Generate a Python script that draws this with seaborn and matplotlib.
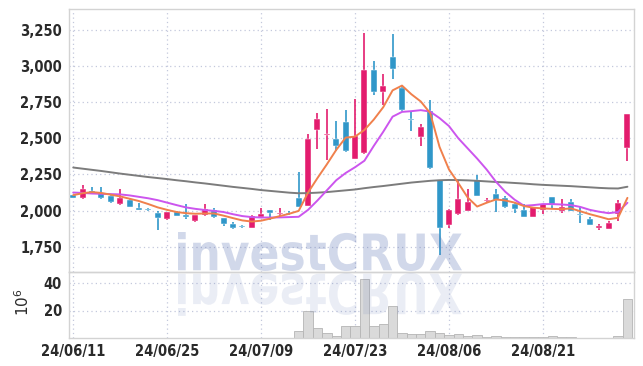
import numpy as np
import pandas as pd
import matplotlib
matplotlib.use("Agg")
import matplotlib.pyplot as plt
import seaborn as sns
from matplotlib.textpath import TextPath
from matplotlib.font_manager import FontProperties, fontManager
from matplotlib.patches import PathPatch
from matplotlib.path import Path
from matplotlib.ticker import FuncFormatter, FixedLocator

# ---------------- data ----------------
dates = pd.bdate_range("2024-06-11", periods=61)
dates = dates[dates != pd.Timestamp("2024-08-15")][:60]

open_ = [2105, 2090, 2135, 2125, 2100, 2045, 2075, 2012, 2010, 1982,
         1942, 1988, 1965, 1925, 1966, 2003, 1946, 1907, 1893, 1882,
         1958, 2003, 1978, 1982, 2090, 2033, 2556, 2523, 2494, 2611,
         2360, 2400, 2970, 2820, 3060, 2850, 2632, 2506, 2687, 2210,
         1900, 1975, 1999, 2215, 2070, 2118, 2090, 2045, 2003, 1957,
         2003, 2091, 1997, 2059, 1975, 1944, 1884, 1874, 1976, 2436]
high = [2110, 2180, 2160, 2160, 2105, 2150, 2080, 2050, 2020, 1995,
        1990, 1995, 2047, 1972, 2043, 2020, 1950, 1923, 1897, 1966,
        2020, 2005, 2020, 1995, 2268, 2533, 2678, 2706, 2618, 2694,
        2775, 3230, 3033, 2943, 3224, 2868, 2687, 2600, 2763, 2215,
        2010, 2210, 2146, 2245, 2090, 2146, 2100, 2050, 2045, 2025,
        2048, 2095, 2077, 2080, 2022, 1958, 1907, 1925, 2072, 2670]
low = [2085, 2083, 2118, 2080, 2055, 2040, 2025, 2005, 2000, 1865,
       1938, 1962, 1942, 1920, 1962, 1950, 1893, 1870, 1880, 1878,
       1955, 1935, 1965, 1967, 2025, 2030, 2425, 2350, 2411, 2404,
       2355, 2395, 2802, 2733, 2913, 2690, 2549, 2448, 2290, 1690,
       1877, 1970, 1995, 2098, 2055, 1992, 2015, 1985, 1955, 1955,
       1976, 2010, 1985, 1995, 1912, 1900, 1865, 1872, 1930, 2344]
close = [2090, 2150, 2125, 2085, 2057, 2090, 2028, 2008, 2007, 1952,
         1988, 1965, 1960, 1968, 2010, 1955, 1908, 1882, 1885, 1962,
         1976, 1986, 1982, 1978, 2027, 2498, 2632, 2528, 2448, 2412,
         2514, 2970, 2820, 2860, 2982, 2694, 2628, 2575, 2296, 1877,
         2003, 2077, 2057, 2100, 2074, 2072, 2027, 2008, 1958, 2022,
         2043, 2038, 2026, 1997, 1972, 1902, 1888, 1916, 2050, 2666]
volume = [0.1, 0.1, 0.1, 0.1, 0.1, 0.1, 0.1, 0.1, 0.1, 0.1,
          0.1, 0.1, 0.1, 0.1, 0.1, 0.1, 0.1, 0.1, 0.1, 0.1,
          0.1, 0.1, 0.1, 0.1, 5.0, 19.3, 7.4, 3.8, 1.8, 8.4,
          8.4, 43.2, 8.4, 10.4, 23.0, 3.8, 2.6, 3.1, 5.0, 3.8,
          2.4, 3.1, 1.6, 2.4, 1.0, 1.6, 1.0, 1.0, 0.5, 0.5,
          0.6, 1.6, 1.0, 1.0, 0.3, 0.3, 0.3, 0.3, 1.6, 28.1]
ma_short = [2107, 2120, 2128, 2122, 2110, 2098, 2082, 2066, 2045, 2022,
            2005, 1990, 1982, 1978, 1980, 1980, 1965, 1948, 1932, 1924,
            1930, 1945, 1962, 1978, 1998, 2125, 2225, 2320, 2420, 2505,
            2512, 2558, 2630, 2715, 2832, 2865, 2805, 2755, 2675, 2440,
            2285, 2190, 2090, 2028, 2054, 2077, 2070, 2055, 2031, 2020,
            2015, 2012, 2010, 2015, 1995, 1975, 1958, 1940, 1950, 2088]
ma_mid = [2125, 2122, 2118, 2116, 2114, 2112, 2105, 2095, 2085, 2072,
          2055, 2038, 2022, 2012, 2004, 1998, 1990, 1975, 1962, 1955,
          1952, 1952, 1953, 1955, 1957, 2005, 2070, 2140, 2210, 2260,
          2300, 2345, 2448, 2545, 2650, 2683, 2688, 2695, 2685, 2640,
          2585, 2500, 2430, 2360, 2285, 2200, 2130, 2075, 2033, 2038,
          2045, 2045, 2042, 2038, 2025, 2005, 1992, 1982, 1990, 2054]
ma_long = [2298, 2290, 2282, 2274, 2265, 2256, 2248, 2240, 2232, 2225,
           2218, 2210, 2203, 2195, 2188, 2180, 2172, 2164, 2157, 2150,
           2142, 2136, 2130, 2124, 2120, 2121, 2124, 2128, 2134, 2140,
           2146, 2155, 2163, 2170, 2178, 2186, 2194, 2200, 2206, 2210,
           2212, 2211, 2209, 2206, 2202, 2198, 2195, 2191, 2187, 2182,
           2178, 2175, 2172, 2169, 2165, 2161, 2157, 2154, 2153, 2165]
price_ticks = [1750, 2000, 2250, 2500, 2750, 3000, 3250]
volume_ticks = [20, 40]

# ---------------- style ----------------
sns.set_theme(style="white")
names = {f.name for f in fontManager.ttflist}
cond = [f for f in fontManager.ttflist if f.name == 'DejaVu Sans' and f.stretch == 'condensed']
if 'Liberation Sans Narrow' in names:
    plt.rcParams['font.family'] = ['Liberation Sans Narrow', 'DejaVu Sans']
    TICKFONT = dict(family='Liberation Sans Narrow', weight='bold')
elif cond:
    plt.rcParams['font.family'] = ['DejaVu Sans']
    TICKFONT = dict(family='DejaVu Sans', stretch='condensed', weight='bold')
else:
    plt.rcParams['font.family'] = ['DejaVu Sans']
    TICKFONT = dict(family='DejaVu Sans', weight='bold')

UP = '#E31C6E'
DOWN = '#3097C9'
GRID = '#c3c8dc'
SPINE = '#d3d3d3'
TXT = '#2a2a2a'

W, H = 643, 366
fig = plt.figure(figsize=(W / 100, H / 100), dpi=100)
L, R = 69, 634
ax = fig.add_axes([L / W, 1 - 272 / H, (R - L) / W, (272 - 9) / H])
axv = fig.add_axes([L / W, 1 - 338 / H, (R - L) / W, (338 - 272) / H], sharex=ax)
for a in (ax, axv):
    a.set_facecolor('none')

df = pd.DataFrame({"date": dates, "open": open_, "high": high, "low": low,
                   "close": close, "volume": volume, "ma5": ma_short,
                   "ma20": ma_mid, "ma60": ma_long})
df["idx"] = np.arange(len(df))
df["up"] = df["close"] >= df["open"]
colors = np.where(df["up"], UP, DOWN)

# candles
ax.vlines(df["idx"], df["low"], df["high"], colors=colors, lw=1.2, zorder=2)
body_lo = np.minimum(df["open"], df["close"]).astype(float)
body_h = np.abs(df["close"] - df["open"]).astype(float)
min_h = 9.0
adj = body_h < min_h
body_lo = np.where(adj, (df["open"] + df["close"]) / 2 - min_h / 2, body_lo)
body_h = np.where(adj, min_h, body_h)
ax.bar(df["idx"], body_h, bottom=body_lo, width=0.64, color=colors,
       edgecolor='white', linewidth=0.3, zorder=3)

# moving averages
sns.lineplot(data=df, x="idx", y="ma60", ax=ax, color='#7c7c7c', lw=1.4, zorder=4)
sns.lineplot(data=df, x="idx", y="ma20", ax=ax, color='#CC55EE', lw=1.4, zorder=5)
sns.lineplot(data=df, x="idx", y="ma5", ax=ax, color='#F0804C', lw=1.4, zorder=6)

# volume
axv.bar(df["idx"], df["volume"], width=1.0, color='#DADADA',
        edgecolor='#B5B5B5', linewidth=0.6, zorder=2)

# axes setup
ax.set_xlim(-0.45, 59.7)
ax.set_ylim(1575, 3395)
axv.set_ylim(0, 48)
ax.yaxis.set_major_locator(FixedLocator(price_ticks))
ax.yaxis.set_major_formatter(FuncFormatter(lambda v, p: f"{int(v):,}"))
axv.yaxis.set_major_locator(FixedLocator(volume_ticks))
tick_pos = df["idx"][::10].tolist()
axv.xaxis.set_major_locator(FixedLocator(tick_pos))
axv.set_xticklabels([d.strftime("%y/%m/%d") for d in df["date"][::10]])

for a in (ax, axv):
    a.set_xlabel("")
    a.set_ylabel("")
    a.grid(True, ls=(0, (1, 2.5)), color=GRID, lw=0.9)
    a.tick_params(length=0, labelsize=10.5, labelcolor=TXT)
    for s in a.spines.values():
        s.set_color(SPINE)
        s.set_linewidth(1.0)
    a.set_axisbelow(True)
ax.tick_params(axis='y', pad=5)
axv.tick_params(axis='y', pad=5)
axv.tick_params(axis='x', pad=4)
plt.setp(ax.get_xticklabels(), visible=False)
for lbl in ax.get_yticklabels() + axv.get_yticklabels() + axv.get_xticklabels():
    lbl.set_fontproperties(FontProperties(size=10.5, **TICKFONT))

axv.set_ylabel(r'$10^6$', fontsize=11, color=TXT, rotation=90)
axv.yaxis.set_label_coords(-0.066, 0.55)

# watermark "investCRUX" with reflection
fp = FontProperties(family='DejaVu Sans', weight='bold')
tp = TextPath((0, 0), "investCRUX", size=100, prop=fp)
ext = tp.get_extents()
v = tp.vertices
sx = (462 - 178) / ext.width
sy = (271 - 232) / ext.height
px = 178 + (v[:, 0] - ext.x0) * sx
py_main = (H - 271) + (v[:, 1] - ext.y0) * sy
py_refl = (H - 273) - (v[:, 1] - ext.y0) * sy * 1.1
wm_col = (88 / 255, 112 / 255, 178 / 255)
for py, alpha in ((py_main, 0.27), (py_refl, 0.12)):
    path = Path(np.column_stack([px / W, py / H]), tp.codes)
    fig.add_artist(PathPatch(path, transform=fig.transFigure, facecolor=wm_col,
                             edgecolor='none', alpha=alpha, zorder=10))

fig.savefig("out.png", dpi=100)
